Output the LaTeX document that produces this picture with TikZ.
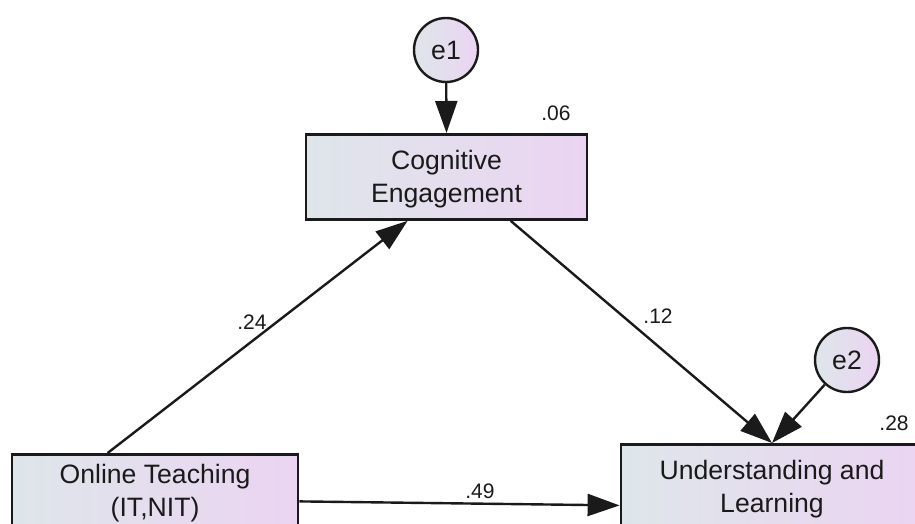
\documentclass[tikz,border=0pt]{standalone}
\usepackage{fontspec}
\setmainfont{Liberation Sans}
\usetikzlibrary{arrows.meta,calc}
\definecolor{shadeL}{HTML}{DEE6EA}
\definecolor{shadeR}{HTML}{EBD4F2}
\definecolor{ink}{HTML}{1A1A1A}
\tikzset{
  varbox/.style={draw=ink, line width=1.4pt, left color=shadeL, right color=shadeR,
    align=center, inner ysep=0pt, text height=34pt, text depth=8.5pt,
    font=\fontsize{13.3}{16.5}\selectfont, text=ink, anchor=north},
  errvar/.style={circle, draw=ink, line width=1.2pt, left color=shadeL, right color=shadeR,
    minimum size=32pt, inner sep=0pt, font=\fontsize{13.3}{16}\selectfont, text=ink},
  coef/.style={font=\fontsize{10.5}{12}\selectfont, text=ink, inner sep=0pt},
  path/.style={draw=ink, line width=1.2pt, -{Triangle[length=16pt,width=11pt]}}
}
\begin{document}
\begin{tikzpicture}[x=0.5pt,y=-0.5pt]
\useasboundingbox (0,0) rectangle (915,524);
% variables
\node[varbox, minimum width=140.5pt] (cog) at (446.5,133) {Cognitive\\Engagement};
\node[varbox, minimum width=143pt, text height=31pt, text depth=11.5pt] (online) at (155,453) {Online Teaching\\(IT,NIT)};
\node[varbox, minimum width=151pt] (und) at (772,443) {Understanding and\\Learning};
% error terms
\node[errvar] (e1) at (446,50) {e1};
\node[errvar] (e2) at (847,360) {e2};
% paths
\draw[path] (e1) -- (cog.north);
\draw[path] (e2) -- (und.north);
\draw[path] ($(online.north west)!0.336!(online.north east)$) -- ($(cog.south west)!0.363!(cog.south east)$);
\draw[path] ($(cog.south west)!0.726!(cog.south east)$) -- (und.north);
\draw[path] ([yshift=-2.25pt]online.east) -- ([yshift=-9.25pt]und.west);
% estimates
\node[coef] (r2cog) at (556,113) {.06};
\node[coef] (r2und) at (894,423) {.28};
\node[coef] (b24) at (252,322) {.24};
\node[coef] (b12) at (658,316) {.12};
\node[coef] (b49) at (480,491) {.49};
\end{tikzpicture}
\end{document}
